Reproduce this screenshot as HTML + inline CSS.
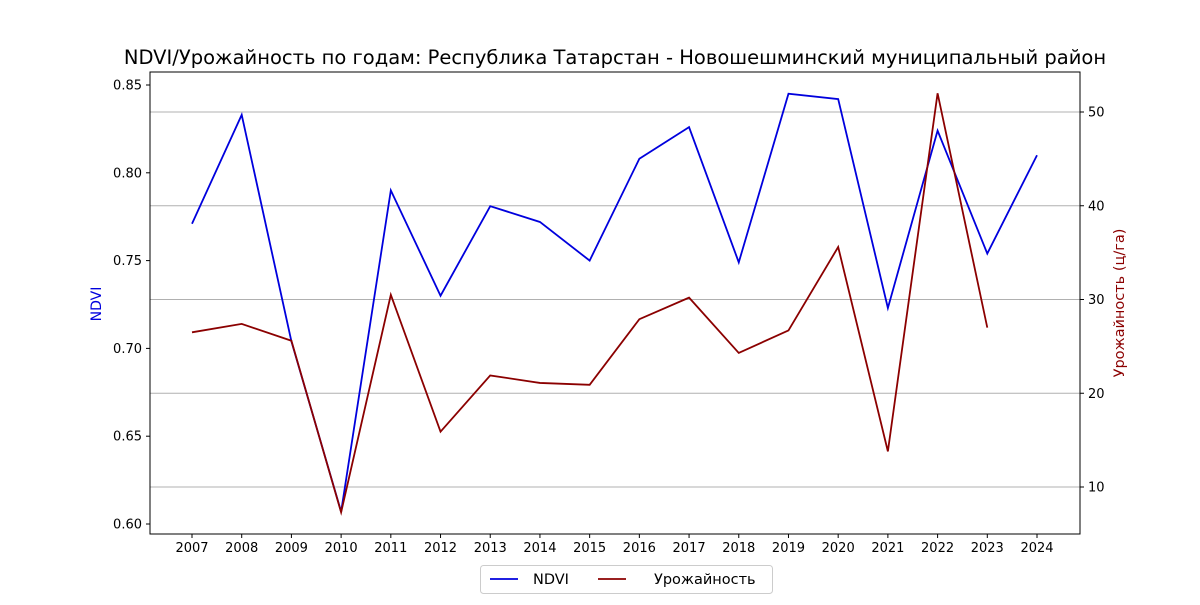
<!DOCTYPE html>
<html><head><meta charset="utf-8"><style>
body{margin:0;background:#fff;font-family:"Liberation Sans","DejaVu Sans",sans-serif}
svg text{font-family:"DejaVu Sans","Liberation Sans",sans-serif}
</style></head><body>
<svg id="chart" width="1200" height="600" xmlns="http://www.w3.org/2000/svg"></svg>
<script>
const years=[2007,2008,2009,2010,2011,2012,2013,2014,2015,2016,2017,2018,2019,2020,2021,2022,2023,2024];
const ndvi=[0.771,0.833,0.704,0.607,0.790,0.730,0.781,0.772,0.750,0.808,0.826,0.749,0.845,0.842,0.723,0.824,0.754,0.810];
const yieldYears=[2007,2008,2009,2010,2011,2012,2013,2014,2015,2016,2017,2018,2019,2020,2021,2022,2023];
const yieldVals=[26.5,27.4,25.6,7.3,30.5,15.9,21.9,21.1,20.9,27.9,30.2,24.3,26.7,35.6,13.8,52.0,27.0];
const leftTicks=[0.60,0.65,0.70,0.75,0.80,0.85];
const rightTicks=[10,20,30,40,50];
const svg=document.getElementById('chart');const NS='http://www.w3.org/2000/svg';
function mk(t,a,p){const e=document.createElementNS(NS,t);for(const k in a)e.setAttribute(k,a[k]);(p||svg).appendChild(e);return e;}
const L=150,R=1080,T=72,B=534;
const x=y=>192+(y-2007)*(1037-192)/17;
const yl=v=>85+(0.85-v)*1756;
const yr=v=>112+(50-v)*9.375;
rightTicks.forEach(v=>{const g=mk('line',{x1:L,x2:R,y1:yr(v),y2:yr(v),stroke:'#b0b0b0','stroke-width':1});

});
const fr=mk('rect',{x:L,y:T,width:R-L,height:B-T,fill:'none',stroke:'#000','stroke-width':1});


years.forEach(y=>{mk('line',{x1:x(y),x2:x(y),y1:B,y2:B+4,stroke:'#000'});
const t=mk('text',{x:x(y),y:B+18,'text-anchor':'middle','font-size':13});t.textContent=y;

});
leftTicks.forEach(v=>{mk('line',{x1:L-4,x2:L,y1:yl(v),y2:yl(v),stroke:'#000'});
const t=mk('text',{x:L-8,y:yl(v)+4.5,'text-anchor':'end','font-size':13});t.textContent=v.toFixed(2);

});
rightTicks.forEach(v=>{mk('line',{x1:R,x2:R+4,y1:yr(v),y2:yr(v),stroke:'#000'});
const t=mk('text',{x:R+8,y:yr(v)+4.5,'font-size':13});t.textContent=v;

});
const p1=mk('polyline',{points:years.map((y,i)=>x(y)+','+yl(ndvi[i])).join(' '),fill:'none',stroke:'#0000dd','stroke-width':1.8});


const p2=mk('polyline',{points:yieldYears.map((y,i)=>x(y)+','+yr(yieldVals[i])).join(' '),fill:'none',stroke:'#8b0000','stroke-width':1.8});


const tt=mk('text',{x:615,y:64,'text-anchor':'middle','font-size':19.5});tt.textContent='NDVI/Урожайность по годам: Республика Татарстан - Новошешминский муниципальный район';


const ly=mk('text',{x:101,y:304,'text-anchor':'middle','font-size':14,fill:'#0000dd',transform:'rotate(-90 101 304)'});ly.textContent='NDVI';


const ry=mk('text',{x:1124,y:303,'text-anchor':'middle','font-size':14.5,fill:'#8b0000',transform:'rotate(-90 1124 303)'});ry.textContent='Урожайность (ц/га)';


const lg=mk('g',{});


mk('rect',{x:480.5,y:565.5,width:292,height:28,rx:3,fill:'#fff',stroke:'#ccc'},lg);
mk('line',{x1:490,x2:518,y1:579,y2:579,stroke:'#0000dd','stroke-width':1.8},lg);
const a=mk('text',{x:533,y:584,'font-size':14.5},lg);a.textContent='NDVI';


mk('line',{x1:598,x2:626,y1:579,y2:579,stroke:'#8b0000','stroke-width':1.8},lg);
const b=mk('text',{x:654,y:584,'font-size':14.5},lg);b.textContent='Урожайность';


</script>
</body></html>
